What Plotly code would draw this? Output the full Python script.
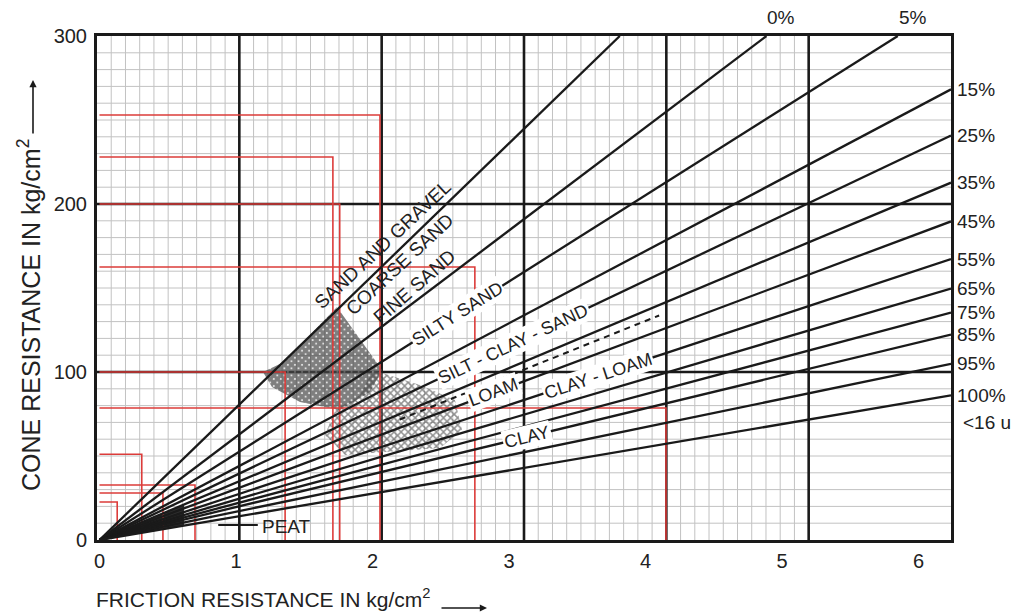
import math
import numpy as np
import plotly.graph_objects as go

# ---------------- data ----------------
X_MIN, X_MAX = -0.018, 6.238
Y_MIN, Y_MAX = 0, 300
X_TICKS = [0, 1, 2, 3, 4, 5, 6]
Y_TICKS = [0, 100, 200, 300]

# cone / friction ratio lines (from origin)
RAY_SLOPES = [78.7, 61.4, 51.3, 43.0, 38.6, 34.1, 30.4, 26.8, 24.0, 21.7, 19.6, 16.8, 13.8]
RAY_LABELS = ["", "0%", "5%", "15%", "25%", "35%", "45%", "55%", "65%", "75%", "85%", "95%", "100%"]

DASHED_SLOPE = 32.6
DASHED_X = [2.2, 4.1]

# red boxes (right edge, top edge) drawn from the axes
BOX_X = [2.055, 1.71, 1.76, 2.75, 1.36, 4.15, 0.31, 0.70, 0.465, 0.13]
BOX_Y = [253, 228, 200, 162.5, 100, 78.6, 51, 32.7, 28, 22.6]

# hatched zones
DENSE_X = [1.740, 1.930, 2.070, 1.982, 1.762, 1.469, 1.264, 1.198, 1.337, 1.542]
DENSE_Y = [138.7, 117.3, 101.2, 88.1, 77.4, 82.1, 91.1, 100.0, 105.4, 122.0]
LIGHT_X = [2.004, 2.348, 2.604, 2.656, 2.495, 2.128, 1.799, 1.652, 1.725, 1.908]
LIGHT_Y = [101.2, 92.3, 83.3, 65.5, 54.8, 52.4, 50.6, 62.5, 77.4, 86.3]

# dark wedge where the low-ratio lines converge near the origin
WEDGE_RAYS = [5, 12]
WEDGE_END_X = 0.62

# zone names between lines
FREE_NAMES = ["SAND AND GRAVEL", "COARSE SAND", "FINE SAND"]
FREE_X = [2.077, 2.20, 2.31]
FREE_Y = [175.6, 163.7, 150.6]
FREE_ANGLE = [-43, -43, -41]

# zone names written on a line
ON_NAMES = ["SILTY SAND", "SILT - CLAY - SAND", "LOAM", "CLAY - LOAM", "CLAY"]
ON_RAY = [2, 4, 6, 7, 10]
ON_X = [2.62, 3.03, 2.89, 3.65, 3.13]

PEAT_LINE_X = [0.87, 1.16]
PEAT_Y = 8.9

# ---------------- figure ----------------
# the page body adds an 8 px offset; sizes are chosen so the plot box sits at 97..951 x 36..540
W, H = 1015, 604
ML, MR, MT, MB = 89, 72, 28, 72
PW, PH = W - ML - MR, H - MT - MB
PX_X = PW / (X_MAX - X_MIN)
PX_Y = PH / (Y_MAX - Y_MIN)

FONT = "Arial, Liberation Sans, Helvetica, sans-serif"
INK = "#1a1a1a"
TXT = "#222222"
RED = "#dc3c3a"

fig = go.Figure()

# grid (chart paper): 6 cells across, 0.1 subdivisions up to 5
GSTEP = (X_MAX - X_MIN) / 6.0
shapes = []
for u in np.arange(1, 50):
    if u % 10 == 0:
        continue
    gx = X_MIN + u / 10.0 * GSTEP
    shapes.append(dict(type="line", xref="x", yref="y", x0=gx, x1=gx, y0=Y_MIN, y1=Y_MAX,
                       line=dict(color="#c2c2c2", width=1), layer="below"))
for v in np.arange(10, 300, 10):
    if v % 100 == 0:
        continue
    shapes.append(dict(type="line", xref="x", yref="y", x0=X_MIN, x1=X_MAX, y0=v, y1=v,
                       line=dict(color="#c2c2c2", width=1), layer="below"))
for u in range(1, 6):
    gx = X_MIN + u * GSTEP
    shapes.append(dict(type="line", xref="x", yref="y", x0=gx, x1=gx, y0=Y_MIN, y1=Y_MAX,
                       line=dict(color=INK, width=2.6), layer="below"))
for v in (100, 200):
    shapes.append(dict(type="line", xref="x", yref="y", x0=X_MIN, x1=X_MAX, y0=v, y1=v,
                       line=dict(color=INK, width=2.6), layer="below"))

# hatched zones
fig.add_trace(go.Scatter(x=LIGHT_X + LIGHT_X[:1], y=LIGHT_Y + LIGHT_Y[:1], mode="lines",
                         fill="toself", line=dict(width=0, color="rgba(0,0,0,0)"),
                         fillpattern=dict(shape="x", size=5, solidity=0.5, fgcolor="#222",
                                          bgcolor="rgba(255,255,255,0.3)"),
                         hoverinfo="skip", showlegend=False))
fig.add_trace(go.Scatter(x=DENSE_X + DENSE_X[:1], y=DENSE_Y + DENSE_Y[:1], mode="lines",
                         fill="toself", line=dict(width=0, color="rgba(0,0,0,0)"),
                         fillpattern=dict(shape="x", size=5, solidity=0.9, fgcolor="#000",
                                          bgcolor="rgba(255,255,255,0.4)"),
                         hoverinfo="skip", showlegend=False))

# dark wedge near origin
m_top, m_bot = RAY_SLOPES[WEDGE_RAYS[0]], RAY_SLOPES[WEDGE_RAYS[1]]
fig.add_trace(go.Scatter(x=[0, WEDGE_END_X, WEDGE_END_X, 0],
                         y=[0, m_top * WEDGE_END_X, m_bot * WEDGE_END_X, 0],
                         mode="lines", fill="toself", fillcolor="rgba(10,10,10,0.85)",
                         line=dict(width=0, color="rgba(0,0,0,0)"),
                         hoverinfo="skip", showlegend=False))

# red boxes
for bx, by in zip(BOX_X, BOX_Y):
    fig.add_trace(go.Scatter(x=[0, bx, bx], y=[by, by, 0], mode="lines",
                             line=dict(color=RED, width=1.6), hoverinfo="skip", showlegend=False))

# rays
ray_end = []
for m in RAY_SLOPES:
    xe = min(X_MAX, Y_MAX / m)
    ye = m * xe
    ray_end.append((xe, ye))
    fig.add_trace(go.Scatter(x=[0, xe], y=[0, ye], mode="lines",
                             line=dict(color=INK, width=2.3), hoverinfo="skip", showlegend=False))

fig.add_trace(go.Scatter(x=DASHED_X, y=[DASHED_SLOPE * v for v in DASHED_X], mode="lines",
                         line=dict(color=INK, width=2, dash="6px,5px"),
                         hoverinfo="skip", showlegend=False))

fig.add_trace(go.Scatter(x=PEAT_LINE_X, y=[PEAT_Y, PEAT_Y], mode="lines",
                         line=dict(color=INK, width=2), hoverinfo="skip", showlegend=False))

ann = []


def screen_angle(m):
    return -math.degrees(math.atan(m * PX_Y / PX_X))


# ray percentage labels
for (xe, ye), lab in zip(ray_end, RAY_LABELS):
    if not lab:
        continue
    if ye >= Y_MAX - 1e-6:
        ann.append(dict(x=xe, y=Y_MAX, xref="x", yref="y", text=lab, showarrow=False,
                        xanchor="center", yanchor="bottom", xshift=15, yshift=6,
                        font=dict(size=19, color=TXT, family=FONT)))
    else:
        ann.append(dict(x=1, y=ye, xref="paper", yref="y", text=lab, showarrow=False,
                        xanchor="left", yanchor="middle", xshift=4,
                        font=dict(size=19, color=TXT, family=FONT)))
ann.append(dict(x=1, y=70.2, xref="paper", yref="y", text="&lt;16 u", showarrow=False,
                xanchor="left", yanchor="middle", xshift=10,
                font=dict(size=19, color=TXT, family=FONT)))

# zone names
for name, x, y, a in zip(FREE_NAMES, FREE_X, FREE_Y, FREE_ANGLE):
    ann.append(dict(x=x, y=y, xref="x", yref="y", text=name, showarrow=False, textangle=a,
                    font=dict(size=19, color=TXT, family=FONT)))
for name, ri, x in zip(ON_NAMES, ON_RAY, ON_X):
    m = RAY_SLOPES[ri]
    ann.append(dict(x=x, y=m * x, xref="x", yref="y", text=name, showarrow=False,
                    textangle=screen_angle(m), bgcolor="white", borderpad=1,
                    font=dict(size=18, color=TXT, family=FONT)))
ann.append(dict(x=PEAT_LINE_X[1], y=PEAT_Y, xref="x", yref="y", text="PEAT", showarrow=False,
                xanchor="left", yanchor="middle", xshift=2, yshift=-1,
                font=dict(size=19, color=TXT, family=FONT)))

# axis titles with arrows
ann.append(dict(x=-0.003, y=-58 / PH, xref="paper", yref="paper",
                text="FRICTION RESISTANCE IN kg/cm<sup>2</sup>", showarrow=False,
                xanchor="left", yanchor="middle", font=dict(size=21, color=TXT, family=FONT)))
ann.append(dict(x=(487 - 97) / PW, y=-68 / PH, xref="paper", yref="paper", text="",
                showarrow=True, ax=-47, ay=0, arrowhead=2, arrowsize=0.9, arrowwidth=1.6,
                arrowcolor=INK))
ann.append(dict(x=(29 - 97) / PW, y=(540 - 315) / PH, xref="paper", yref="paper",
                text="CONE RESISTANCE IN kg/cm<sup>2</sup>", showarrow=False, textangle=-90,
                xanchor="center", yanchor="middle", font=dict(size=25, color=TXT, family=FONT)))
ann.append(dict(x=(33 - 97) / PW, y=(540 - 80) / PH, xref="paper", yref="paper", text="",
                showarrow=True, ax=0, ay=55, arrowhead=2, arrowsize=0.9, arrowwidth=1.6,
                arrowcolor=INK))

fig.update_layout(
    width=W, height=H,
    margin=dict(l=ML, r=MR, t=MT, b=MB, pad=0),
    paper_bgcolor="white", plot_bgcolor="white",
    shapes=shapes, annotations=ann, showlegend=False,
    font=dict(family=FONT, color=INK),
    xaxis=dict(range=[X_MIN, X_MAX], tickvals=X_TICKS, ticktext=[str(v) for v in X_TICKS],
               showgrid=False, zeroline=False, showline=True, linecolor=INK, linewidth=3,
               mirror=True, ticks="", ticklabelstandoff=1,
               tickfont=dict(size=20, color=TXT, family=FONT), fixedrange=True),
    yaxis=dict(range=[Y_MIN, Y_MAX], tickvals=Y_TICKS, ticktext=[str(v) for v in Y_TICKS],
               showgrid=False, zeroline=False, showline=True, linecolor=INK, linewidth=3,
               mirror=True, ticks="", ticklabelstandoff=3,
               tickfont=dict(size=20, color=TXT, family=FONT), fixedrange=True),
)

fig.write_html("out.html")
